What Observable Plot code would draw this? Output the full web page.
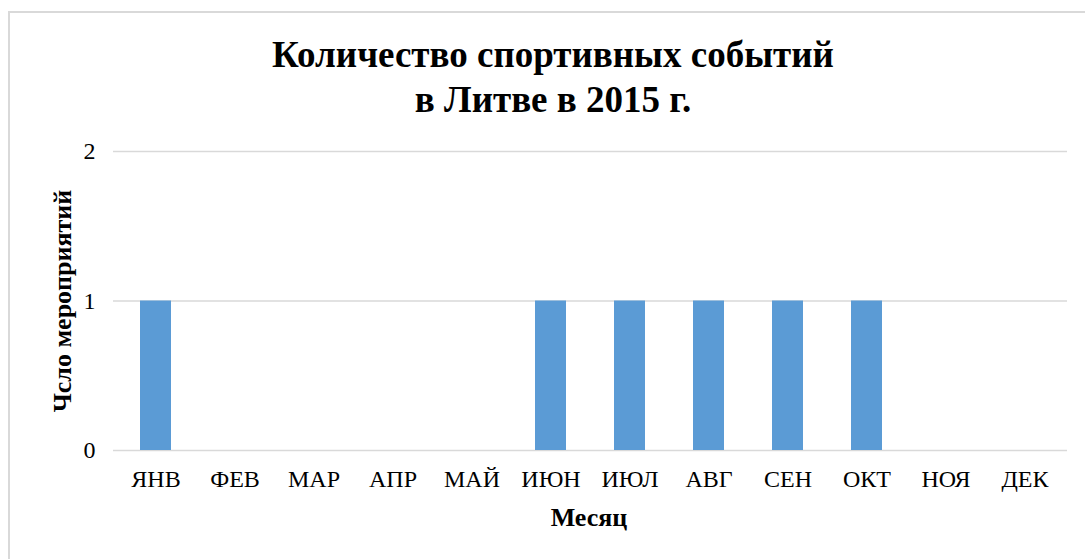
<!DOCTYPE html>
<html>
<head>
<meta charset="utf-8">
<script src="https://cdn.jsdelivr.net/npm/d3@7"></script>
<script src="https://cdn.jsdelivr.net/npm/@observablehq/plot@0.6"></script>
<style>
  html, body { margin: 0; padding: 0; background: #fff; overflow: hidden; width: 1085px; height: 559px; }
  #frame { position: absolute; left: 8px; top: 11px; width: 1100px; height: 600px; border: 2px solid #d9d9d9; box-sizing: border-box; }
  #title { position: absolute; left: 0; width: 1106px; top: 32px; text-align: center;
           font: bold 37px "Liberation Serif", "Times New Roman", serif; line-height: 45px; color: #000; }
  #chart { position: absolute; left: 0; top: 0; }
  #ylab { position: absolute; left: 63px; top: 301px; transform: translate(-50%, -50%) rotate(-90deg);
          font: bold 26px "Liberation Serif", serif; white-space: nowrap; color: #000; }
  #xlab { position: absolute; left: 589px; top: 503px; transform: translateX(-50%);
          font: bold 26px "Liberation Serif", serif; white-space: nowrap; color: #000; }
</style>
</head>
<body>
<div id="frame"></div>
<div id="title">Количество спортивных событий<br>в Литве в 2015 г.</div>
<div id="chart"></div>
<div id="ylab">Чсло мероприятий</div>
<div id="xlab">Месяц</div>
<script>
const months = ["ЯНВ","ФЕВ","МАР","АПР","МАЙ","ИЮН","ИЮЛ","АВГ","СЕН","ОКТ","НОЯ","ДЕК"];
const events = [1,0,0,0,0,1,1,1,1,1,0,0];
const yTicks = [0,1,2];

const data = months.map((m, i) => ({month: m, value: events[i]}));

const chart = Plot.plot({
  width: 1085,
  height: 559,
  marginLeft: 113,
  marginRight: 18,
  marginTop: 151,
  marginBottom: 109,
  style: {fontFamily: '"Liberation Serif", "Times New Roman", serif', fontSize: "24px", color: "#000", background: "transparent"},
  x: {domain: months, paddingInner: 0.61, paddingOuter: 0.305, label: null},
  y: {domain: [0, 2], label: null},
  marks: [
    Plot.gridY(yTicks, {stroke: "#d9d9d9", strokeOpacity: 1, strokeWidth: 1.5}),
    Plot.barY(data, {x: "month", y: "value", fill: "#5b9bd5"}),
    Plot.axisX({tickSize: 0, tickPadding: 19, label: null, fontSize: 24}),
    Plot.axisY(yTicks, {tickSize: 0, tickPadding: 18, label: null, fontSize: 24, tickFormat: d3.format("d")})
  ]
});
document.getElementById("chart").appendChild(chart);
</script>
</body>
</html>
